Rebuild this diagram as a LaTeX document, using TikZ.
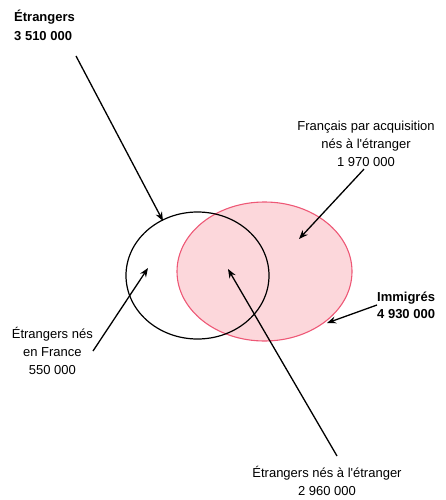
\documentclass[tikz,border=0pt]{standalone}
\usepackage{fontspec}
\setmainfont{Liberation Sans}[Ligatures=TeXOff]
\usetikzlibrary{arrows.meta}
\definecolor{rosefond}{RGB}{252,215,219}
\definecolor{rosetrait}{RGB}{238,88,118}
\tikzset{
  fleche/.style={line width=1.3pt,-{Stealth[length=9pt,width=7pt]}},
  etiquette/.style={inner sep=0pt,font=\fontsize{13}{18}\selectfont},
}
\begin{document}
\begin{tikzpicture}[x=1pt,y=-1pt]
  \useasboundingbox (0,0) rectangle (446,500);
  % ensembles
  \draw[rosetrait,fill=rosefond,line width=1.1pt] (264.5,271.5) ellipse [x radius=87.5,y radius=69.5];
  \draw[line width=1.2pt] (197.5,275.5) ellipse [x radius=71.5,y radius=63.5];
  % etiquettes
  \node[etiquette,anchor=north west,align=left,font=\fontsize{13}{19}\selectfont\bfseries] (etr) at (14,10) {Étrangers\\3 510 000};
  \node[etiquette,anchor=north,align=center] (fra) at (366,121) {Français par acquisition\\nés à l'étranger\\1 970 000};
  \node[etiquette,anchor=west,align=left,font=\fontsize{13}{17}\selectfont\bfseries] (imm) at (377,305) {Immigrés\\4 930 000};
  \node[etiquette,anchor=east,align=center] (enf) at (93,351) {Étrangers nés\\en France\\550 000};
  \node[etiquette,anchor=north,align=center] (ena) at (327,466) {Étrangers nés à l'étranger\\2 960 000};
  % bouts des fleches
  \coordinate (etrq) at (76,56);
  \coordinate (etrp) at (163,221);
  \coordinate (frap) at (299,239);
  \coordinate (immp) at (327,323);
  \coordinate (enfp) at (148,268);
  \coordinate (enaq) at (337,456);
  \coordinate (enap) at (228,269);
  \draw[fleche] (etrq) -- (etrp);
  \draw[fleche,shorten <=3pt] (fra.south) -- (frap);
  \draw[fleche] (imm.west) -- (immp);
  \draw[fleche] (enf.east) -- (enfp);
  \draw[fleche] (enaq) -- (enap);
\end{tikzpicture}
\end{document}
